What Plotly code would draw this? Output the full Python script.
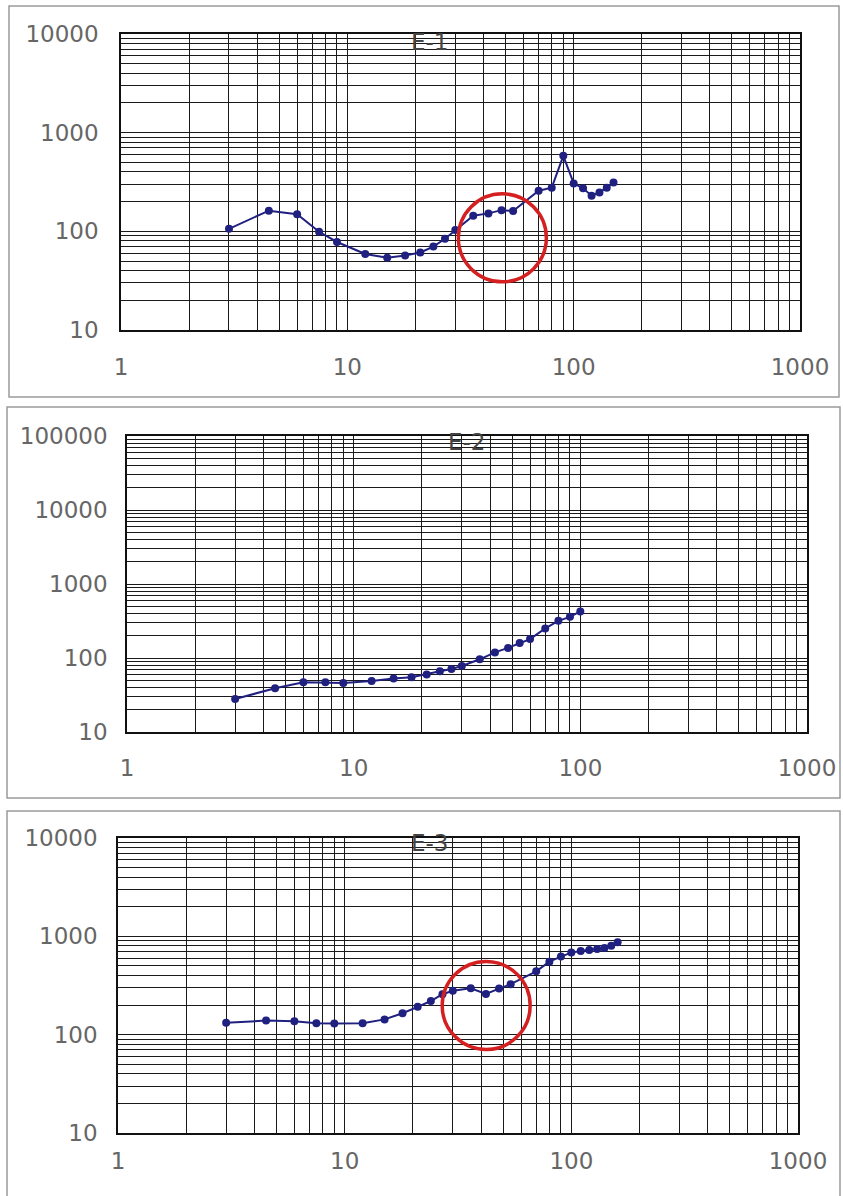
import plotly.graph_objects as go

# Test data for three sections (log-log), E-1 .. E-3
e1_x = [3, 4.5, 6, 7.5, 9, 12, 15, 18, 21, 24, 27, 30, 36, 42, 48, 54,
        70, 80, 90, 100, 110, 120, 130, 140, 150]
e1_y = [106, 162, 149, 99, 78, 59, 54, 57, 61, 70, 84, 103, 144, 152, 164, 161,
        258, 277, 583, 306, 273, 230, 248, 277, 313]

e2_x = [3, 4.5, 6, 7.5, 9, 12, 15, 18, 21, 24, 27, 30, 36, 42, 48, 54,
        60, 70, 80, 90, 100]
e2_y = [28, 39, 47, 47, 46, 49, 53, 55, 60, 66, 71, 78, 96, 119, 137, 160,
        180, 251, 318, 360, 426]

e3_x = [3, 4.5, 6, 7.5, 9, 12, 15, 18, 21, 24, 27, 30, 36, 42, 48, 54,
        70, 80, 90, 100, 110, 120, 130, 140, 150, 160]
e3_y = [132, 139, 137, 131, 130, 131, 143, 165, 192, 220, 258, 280, 296, 259, 294, 326,
        441, 553, 622, 683, 710, 727, 745, 760, 800, 870]

titles = ["E-1", "E-2", "E-3"]
x_tickvals = [1, 10, 100, 1000]
x_ticktext = ["1", "10", "100", "1000"]
y_tickvals = [[10, 100, 1000, 10000],
              [10, 100, 1000, 10000, 100000],
              [10, 100, 1000, 10000]]

# highlighted regions: (panel, centre x, centre y) in data units
highlights = [(1, 48.4, 86), (3, 42.1, 198)]
HL_RADIUS_PX = 44

W, H = 843, 1196
# plot areas in pixels: (left, right, top, bottom)
areas = [(121, 800, 34, 330), (127, 807, 436, 732), (118, 798, 838, 1133)]
# outer frames in pixels: (left, right, top, bottom)
frames = [(9, 839, 6, 397), (7, 840, 407, 798), (7, 840, 811, 1199)]
xrange_log = [0, 3]
yranges = [[1, 4], [1, 5], [1, 4]]
title_pos_px = [(429, 42), (466, 442), (429, 843)]
x_standoff = [16, 15, 7]
y_standoff = [16, 13, 14]

LINE = "#202080"
GRID = "#1a1a1a"
LABEL = "#666666"
FONT = "DejaVu Sans"

series = [(e1_x, e1_y), (e2_x, e2_y), (e3_x, e3_y)]

fig = go.Figure()
shapes = []
annotations = []

for i, (xs, ys) in enumerate(series):
    n = i + 1
    xa = "x" if n == 1 else f"x{n}"
    ya = "y" if n == 1 else f"y{n}"
    fig.add_trace(go.Scatter(
        x=xs, y=ys, mode="lines+markers", xaxis=xa, yaxis=ya,
        line=dict(color=LINE, width=2),
        marker=dict(color=LINE, size=8),
        showlegend=False, hoverinfo="x+y",
    ))
    l, r, t, b = areas[i]
    xdom = [l / W, r / W]
    ydom = [1 - b / H, 1 - t / H]
    axis_common = dict(
        type="log", automargin=False,
        showline=True, linecolor="#111111", linewidth=1.5, mirror=True,
        showgrid=True, gridcolor=GRID, gridwidth=1,
        minor=dict(dtick="D1", showgrid=True, gridcolor=GRID, gridwidth=1, ticks=""),
        ticks="", zeroline=False,
        tickfont=dict(family=FONT, size=23, color=LABEL),
    )
    fig.update_layout(**{
        ("xaxis" if n == 1 else f"xaxis{n}"): dict(
            axis_common, domain=xdom, range=xrange_log, anchor=ya,
            tickvals=x_tickvals, ticktext=x_ticktext,
            ticklabelstandoff=x_standoff[i]),
        ("yaxis" if n == 1 else f"yaxis{n}"): dict(
            axis_common, domain=ydom, range=yranges[i], anchor=xa,
            tickvals=y_tickvals[i], ticktext=[str(v) for v in y_tickvals[i]],
            ticklabelstandoff=y_standoff[i]),
    })
    fl, fr, ft, fb = frames[i]
    shapes.append(dict(type="rect", xref="paper", yref="paper",
                       x0=fl / W, x1=fr / W, y0=1 - fb / H, y1=1 - ft / H,
                       line=dict(color="#9a9a9a", width=1.5), layer="below"))
    tx, ty = title_pos_px[i]
    annotations.append(dict(text=titles[i], xref="paper", yref="paper",
                            x=tx / W, y=1 - ty / H,
                            xanchor="center", yanchor="middle", showarrow=False,
                            font=dict(family=FONT, size=23, color="#444444")))

# red circles around the highlighted regions, sized in screen pixels
for n, cx, cy in highlights:
    i = n - 1
    l, r, t, b = areas[i]
    px_per_dec_x = (r - l) / (xrange_log[1] - xrange_log[0])
    px_per_dec_y = (b - t) / (yranges[i][1] - yranges[i][0])
    fx = 10 ** (HL_RADIUS_PX / px_per_dec_x)
    fy = 10 ** (HL_RADIUS_PX / px_per_dec_y)
    xa = "x" if n == 1 else f"x{n}"
    ya = "y" if n == 1 else f"y{n}"
    shapes.append(dict(type="circle", xref=xa, yref=ya,
                       x0=cx / fx, x1=cx * fx, y0=cy / fy, y1=cy * fy,
                       line=dict(color="#d42020", width=3.5)))

fig.update_layout(
    width=W, height=H, margin=dict(l=0, r=0, t=0, b=0, autoexpand=False),
    paper_bgcolor="white", plot_bgcolor="white",
    shapes=shapes, annotations=annotations, showlegend=False,
)

fig.write_html("out.html")
